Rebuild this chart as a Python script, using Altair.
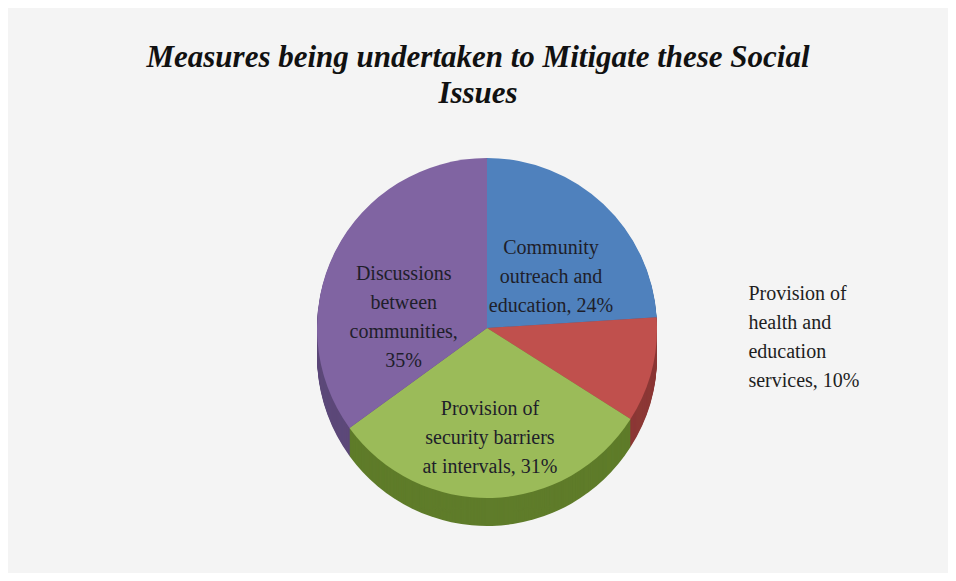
import altair as alt
import pandas as pd

# ---- data ----
categories = [
    "Community outreach and education",
    "Provision of health and education services",
    "Provision of security barriers at intervals",
    "Discussions between communities",
]
label_wrapped = [
    "Community\noutreach and\neducation",
    "Provision  of\nhealth and\neducation\nservices",
    "Provision  of\nsecurity barriers\nat intervals",
    "Discussions\nbetween\ncommunities",
]
pct_sep = ["  ", " ", "  ", "\n"]
values = [24, 10, 31, 35]
outside_labels = ["Provision of health and education services"]

top_colors = ["#4F81BD", "#C0504D", "#9BBB59", "#8064A2"]
side_colors = ["#3d6392", "#8c3836", "#5f7c2a", "#5c4879"]

df = pd.DataFrame({
    "idx": list(range(len(categories))),
    "category": categories,
    "value": values,
    "label": [w + "," + s + f"{v}%" for w, s, v in zip(label_wrapped, pct_sep, values)],
})
total = sum(values)

R = 170
DEPTH = 28
CX = 479
CY = 208

base = alt.Chart(df).encode(
    theta=alt.Theta("value:Q", stack=True),
    order=alt.Order("idx:Q", sort="ascending"),
)

side_scale = alt.Scale(domain=categories, range=side_colors)
top_scale = alt.Scale(domain=categories, range=top_colors)

layers = []
for k in range(DEPTH, 0, -1):
    layers.append(
        base.mark_arc(radius=R).encode(
            color=alt.Color("category:N", scale=side_scale, legend=None),
            x=alt.value(CX),
            y=alt.value(CY + k),
        )
    )

top = base.mark_arc(radius=R).encode(
    color=alt.Color("category:N", scale=top_scale, legend=None),
    x=alt.value(CX),
    y=alt.value(CY),
)
layers.append(top)

# label base: slice mid-angles computed from the stacked values
label_base = alt.Chart(df).transform_window(
    cum="sum(value)", sort=[alt.SortField("idx", order="ascending")]
).transform_calculate(
    mid="datum.cum - datum.value / 2"
)
mid_theta = alt.Theta("mid:Q", stack=None, scale=alt.Scale(domain=[0, total]))

text_style = dict(
    font="Liberation Serif",
    fontSize=20,
    lineBreak="\n",
    lineHeight=29,
    baseline="middle",
)

inside = label_base.transform_filter(
    alt.FieldOneOfPredicate(field="category", oneOf=[c for c in categories if c not in outside_labels])
).mark_text(
    radius=R * 0.55,
    color="#1e1e2a",
    align="center",
    dy=-12,
    **text_style,
).encode(
    theta=mid_theta,
    text="label:N",
    x=alt.value(CX),
    y=alt.value(CY),
)
layers.append(inside)

outside = label_base.transform_filter(
    alt.FieldOneOfPredicate(field="category", oneOf=outside_labels)
).mark_text(
    radius=R + 40,
    color="#1e1e1e",
    align="left",
    dx=58,
    dy=-86,
    **text_style,
).encode(
    theta=mid_theta,
    text="label:N",
    x=alt.value(CX),
    y=alt.value(CY),
)
layers.append(outside)

chart = alt.layer(*layers).resolve_scale(
    color="independent", theta="independent"
).properties(
    width=940,
    height=565,
    autosize=alt.AutoSizeParams(type="fit", contains="padding"),
    padding={"top": 34, "left": 0, "right": 0, "bottom": 0},
    background="#f4f4f4",
    title=alt.Title(
        ["Measures being undertaken to Mitigate these Social", "Issues"],
        font="Liberation Serif",
        fontSize=31,
        fontStyle="italic",
        fontWeight="bold",
        lineHeight=36,
        color="#111111",
        anchor="middle",
        offset=10,
    ),
).configure_view(stroke=None)

chart.save("out.html", embed_options={"renderer": "svg", "actions": False})
